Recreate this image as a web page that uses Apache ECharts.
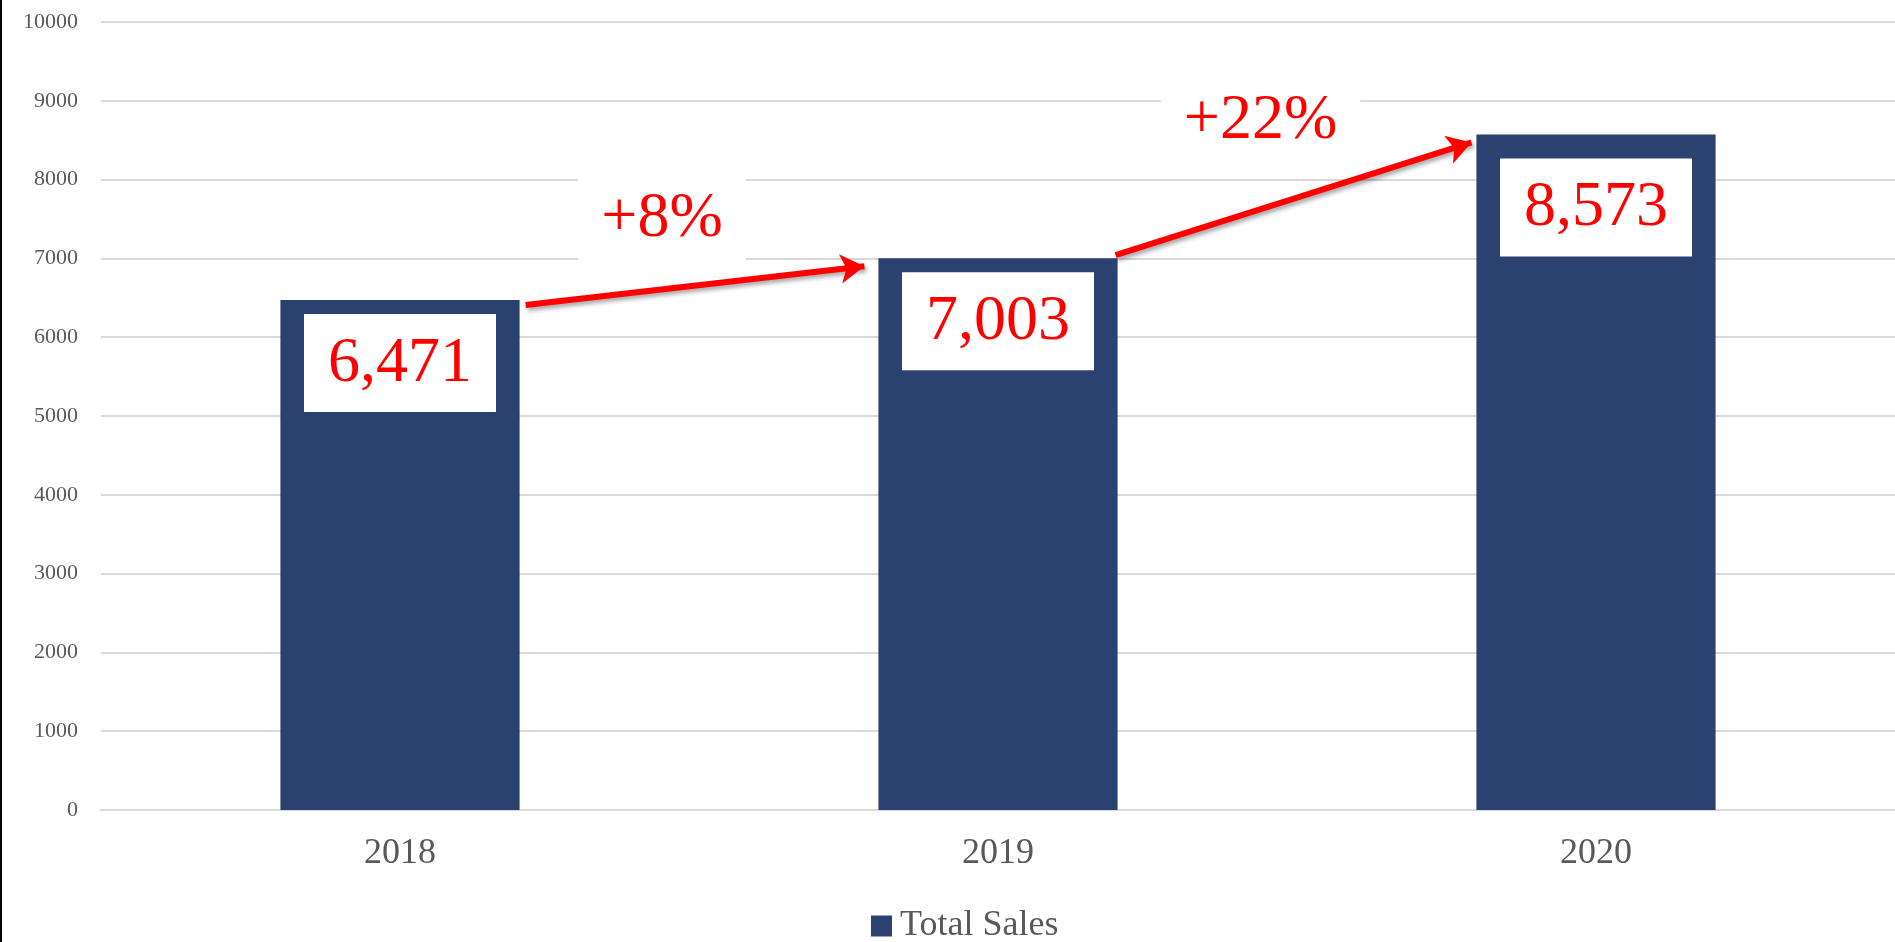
<!DOCTYPE html>
<html>
<head>
<meta charset="utf-8">
<script src="https://cdn.jsdelivr.net/npm/echarts@6/dist/echarts.min.js"></script>
<style>
  html, body { margin: 0; padding: 0; background: #fff; }
  #chart { width: 1895px; height: 942px; }
</style>
</head>
<body>
<div id="chart"></div>
<script>
// Chart data
const years = ['2018', '2019', '2020'];
const totalSales = [6471, 7003, 8573];
const yTicks = { min: 0, max: 10000, interval: 1000 };

const barColor = '#2B4170';
const red = '#FF0000';
const serif = '"Liberation Serif", "Times New Roman", serif';

const chart = echarts.init(document.getElementById('chart'));

const option = {
    animation: false,
    grid: { left: 101, right: 0, top: 22, bottom: 132 },
    graphic: [
        // left border of the picture
        { type: 'rect', left: 0, top: 0, shape: { width: 2, height: 942 }, style: { fill: '#000' } }
    ],
    legend: {
        data: ['Total Sales'],
        left: 866,
        top: 903,
        icon: 'rect',
        itemWidth: 21,
        itemHeight: 21,
        itemGap: 8,
        textStyle: { fontFamily: serif, fontSize: 36, color: '#595959', padding: [0, 0, 0, 3] }
    },
    xAxis: {
        type: 'category',
        data: years,
        axisTick: { show: false },
        axisLine: { lineStyle: { color: '#d9d9d9', width: 2 } },
        axisLabel: { fontFamily: serif, fontSize: 36, color: '#595959', margin: 26 }
    },
    yAxis: {
        type: 'value',
        min: yTicks.min,
        max: yTicks.max,
        interval: yTicks.interval,
        axisLine: { show: false },
        axisTick: { show: false },
        splitLine: { lineStyle: { color: '#d9d9d9', width: 2 } },
        axisLabel: {
            fontFamily: serif,
            fontSize: 22,
            color: '#595959',
            margin: 23,
            formatter: v => String(v)
        }
    },
    series: [
        {
            name: 'Total Sales',
            type: 'bar',
            // the last value box sits a little lower in the original
            data: totalSales.map((v, i) => i === 2 ? { value: v, label: { distance: 24 } } : v),
            barWidth: '40%',
            itemStyle: { color: barColor },
            label: {
                show: true,
                position: 'insideTop',
                distance: 14,
                formatter: p => p.value.toLocaleString('en-US'),
                fontFamily: serif,
                fontSize: 64,
                lineHeight: 66,
                color: red,
                backgroundColor: '#fff',
                padding: [17, 24, 15, 24]
            }
        }
    ]
};

chart.setOption(option);

// Arrows and growth labels, placed from the bar positions on the scales
const addArrows = () => {
    const px = (i, v) => chart.convertToPixel({ seriesIndex: 0 }, [i, v]);
    const band = px(1, 0)[0] - px(0, 0)[0];
    const half = band * 0.4 / 2;
    const left = i => px(i, 0)[0] - half;
    const right = i => px(i, 0)[0] + half;
    const top = i => px(i, totalSales[i])[1];

    const arrows = [
        [{ x: right(0) + 6, y: top(0) + 5 }, { x: left(1) - 14, y: top(1) + 8 }],
        [{ x: right(1) - 2, y: top(1) - 3 }, { x: left(2) - 5, y: top(2) + 8 }]
    ];

    const texts = arrows.map((a, k) => {
        const growth = Math.round((totalSales[k + 1] / totalSales[k] - 1) * 100);
        const mx = (a[0].x + a[1].x) / 2;
        const my = (a[0].y + a[1].y) / 2;
        return {
            type: 'text',
            x: mx - 33,
            y: my - 66 - k * 12,
            z: 10,
            style: {
                text: '+' + growth + '%',
                fontFamily: serif,
                fontSize: 64,
                lineHeight: 66,
                fill: red,
                align: 'center',
                verticalAlign: 'middle',
                backgroundColor: '#fff',
                padding: [12, 23, 12, 23]
            }
        };
    });

    chart.setOption({
        graphic: option.graphic.concat(texts),
        series: [{
            markLine: {
                silent: true,
                symbol: ['none', 'arrow'],
                symbolSize: [22, 24],
                label: { show: false },
                lineStyle: {
                    type: 'solid',
                    color: red,
                    width: 6,
                    shadowColor: 'rgba(0,0,0,0.35)',
                    shadowBlur: 4,
                    shadowOffsetX: 2,
                    shadowOffsetY: 3
                },
                emphasis: { disabled: true },
                data: arrows
            }
        }]
    });
};

addArrows();
window.addEventListener('resize', () => chart.resize());
</script>
</body>
</html>
